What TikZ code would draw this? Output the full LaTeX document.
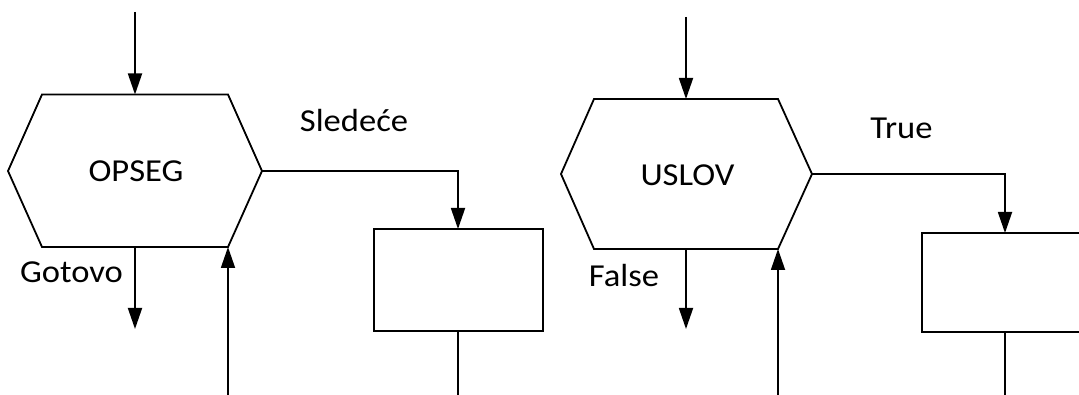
\documentclass[tikz,border=0pt]{standalone}
\usepackage{fontspec}
\setmainfont{Carlito}
\usetikzlibrary{arrows.meta}
\tikzset{
  flow/.style={line width=1.8pt, -{Triangle[length=21pt,width=14pt]}},
  plain/.style={line width=1.8pt},
  shapeline/.style={line width=1.8pt, line join=miter},
  lbl/.style={anchor=base, inner sep=0pt, xscale=1.08,
    font=\fontsize{32}{34}\selectfont}
}
\begin{document}
\begin{tikzpicture}[x=1pt, y=-1pt]
\useasboundingbox (0,0) rectangle (1079,395);
\clip (0,0) rectangle (1079,395);

% ---- loop over a range ----
\coordinate (h1l) at (8,171);
\coordinate (h1tl) at (42,94.5);
\coordinate (h1tr) at (228,94.5);
\coordinate (h1r) at (262,171);
\coordinate (h1br) at (228,247);
\coordinate (h1bl) at (42,247);
\coordinate (h1t) at (135,94.5);
\coordinate (h1b) at (135,247);
\draw[shapeline] (h1l) -- (h1tl) -- (h1tr) -- (h1r) -- (h1br) -- (h1bl) -- cycle;
\node[lbl] (opseg) at (136,182) {OPSEG};

\coordinate (in1) at (135,12);
\coordinate (out1) at (135,329);
\coordinate (back1) at (228,395);
\coordinate (b1top) at (458,229);
\coordinate (b1bot) at (458,331);
\coordinate (tail1) at (458,395);
\draw[plain] (374,229) rectangle (543,331);

\draw[flow] (in1) -- (h1t);
\draw[flow] (h1b) -- (out1);
\draw[flow] (back1) -- (h1br);
\draw[flow] (h1r) -| (b1top);
\draw[plain] (b1bot) -- (tail1);

\node[lbl] (gotovo) at (71.5,283) {Gotovo};
\node[lbl] (sledece) at (354,132) {Sledeće};

% ---- conditional loop ----
\coordinate (h2l) at (561,174);
\coordinate (h2tl) at (594,99);
\coordinate (h2tr) at (778,99);
\coordinate (h2r) at (812,174);
\coordinate (h2br) at (778,249);
\coordinate (h2bl) at (594,249);
\coordinate (h2t) at (686,99);
\coordinate (h2b) at (686,249);
\draw[shapeline] (h2l) -- (h2tl) -- (h2tr) -- (h2r) -- (h2br) -- (h2bl) -- cycle;
\node[lbl] (uslov) at (687.5,186) {USLOV};

\coordinate (in2) at (686,17);
\coordinate (out2) at (686,329);
\coordinate (back2) at (778,395);
\coordinate (b2top) at (1005,233);
\coordinate (b2bot) at (1005,332);
\coordinate (tail2) at (1005,395);
\draw[plain] (922,233) rectangle (1095,332);

\draw[flow] (in2) -- (h2t);
\draw[flow] (h2b) -- (out2);
\draw[flow] (back2) -- (h2br);
\draw[flow] (h2r) -| (b2top);
\draw[plain] (b2bot) -- (tail2);

\node[lbl] (false) at (624,287) {False};
\node[lbl] (true) at (901.5,139) {True};
\end{tikzpicture}
\end{document}
